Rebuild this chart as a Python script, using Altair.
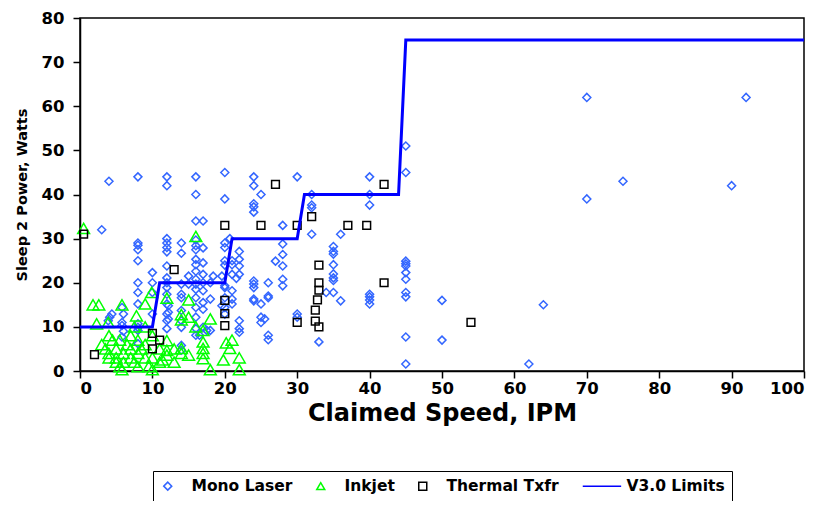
import altair as alt
import pandas as pd

# ---- data ----
mono_x = [4, 8, 12, 12, 16, 20, 24, 24, 30, 40, 45, 45,
          16, 20, 25, 32, 40, 32, 32, 40, 24, 24, 24, 16, 17, 3,
          28, 32, 36, 20.7, 8, 8, 8, 12, 12, 12, 12, 14, 14, 16, 16, 16, 17, 20, 20, 22, 28, 28, 35, 35, 35,
          8, 20, 20, 16, 17, 16, 16, 10, 12, 21, 21, 22, 22, 21, 22, 27, 28, 28, 28, 35, 35, 35, 35, 45, 45, 45, 45, 45, 20, 24, 24, 24, 26,
          8, 8, 10, 10, 8, 12, 12, 12, 12, 14, 14, 14, 15, 15, 16, 16, 16, 16, 17, 17, 17, 17, 18, 18, 18.4, 19.6, 20, 20, 21, 21, 21.6, 19.6, 21, 24, 24, 25, 26, 26, 34, 35, 36, 40, 40, 40, 40, 45, 45, 50, 64,
          4.4, 4.1, 3.9, 5.8, 6, 5.8, 5.8, 6, 8, 8, 8, 10, 12, 12, 12, 12, 12.2, 12.2, 12.2, 14, 14, 14, 16, 16, 16, 16, 17, 17, 17.5, 16.5, 18, 20, 20, 22, 22, 22, 25, 25, 25.5, 26, 26, 30, 30, 45, 50,
          8, 5.8, 14, 14, 33, 45, 62,
          70, 92, 70, 75, 90]
mono_y = [43, 44, 44, 42, 44, 45, 44, 42, 44, 44, 45, 51,
          40, 39, 40, 40, 40, 37.6, 37, 37.6, 37.9, 37.2, 36, 34, 34, 32,
          33, 31, 31, 30, 29, 28.5, 27.5, 30, 29, 28, 27, 29, 26.7, 29.7, 28.4, 27.5, 27.9, 29, 28, 27.1, 28.8, 26.4, 28.2, 27.1, 26.5,
          25, 25, 24, 25.3, 24.5, 24.1, 22.6, 22.3, 23.8, 25, 24.1, 25.3, 23.8, 21.9, 21.9, 24.9, 23.8, 20.8, 19.3, 24.1, 22, 21.1, 20.5, 24.9, 24.3, 23.8, 22.3, 20.8, 19.3, 20.4, 19.7, 18.9, 20,
          20, 17.8, 20, 17.8, 15.2, 21.1, 20, 18.9, 17.4, 19.7, 17.4, 16.6, 21.5, 19.7, 20.8, 19.7, 18.5, 16.6, 21.9, 20, 18.2, 15.5, 20, 16.3, 21.5, 21.5, 18.9, 16.6, 18.2, 16.3, 21, 14.8, 15.2, 16.3, 15.9, 15.2, 17, 16.6, 17.8, 17.8, 15.9, 17.4, 16.8, 16.1, 15.2, 17.8, 16.8, 16, 15,
          12.9, 12.2, 11.4, 14.4, 12.9, 11, 10.3, 9, 10.7, 9.2, 9.9, 12.9, 15.2, 12.9, 11.4, 9.6, 14.8, 13.3, 11.8, 13.7, 11.4, 9.9, 14.4, 12.2, 9.6, 8.1, 14, 9.9, 9.2, 8.1, 9.2, 14.4, 12.9, 11.4, 9.6, 8.8, 12.2, 11, 11.8, 8.1, 7.1, 12.9, 12.2, 7.7, 7,
          6.2, 7.7, 5.8, 4.7, 6.6, 1.6, 1.6,
          62, 62, 39, 43, 42]

inkjet_x = [0.5, 1.8, 2.6, 2.3, 3.9, 3, 3.5, 4, 4, 4, 4.5, 5, 5, 5, 5.5, 5.5, 5.8, 6, 6, 5.8, 6.5, 7, 7, 7, 7.5, 7.5,
            7.8, 8, 8, 8, 8.5, 9, 9, 9, 9, 9.5, 9.9, 10, 10, 10, 11, 11, 12, 12, 12, 12, 11.4, 13, 13, 14, 14, 14, 14,
            15, 15, 15, 16, 16, 17, 17, 17, 17, 17, 18, 18, 19.8, 20.2, 20.7, 21, 22, 22]
inkjet_y = [32.3, 15, 15, 10.7, 11, 6, 5, 8, 4, 3, 7, 5, 2, 3, 7, 1, 15, 4, 2, 0.3, 6, 3, 8, 5, 10, 2,
            12.5, 7, 4, 1, 5, 15.2, 10, 6, 3, 1, 17.8, 0.3, 8, 3, 5, 2, 16.5, 6.9, 4.7, 3.6, 2.5, 5, 2, 12.8, 11.6, 5.1, 4,
            16.1, 12.2, 3.6, 30.5, 10, 9.2, 6.6, 5.1, 4, 2.8, 11.8, 0.3, 2.5, 6.4, 5.1, 7, 3, 0.3]

thermal_x = [0.5, 2, 10, 11, 10, 13, 20, 20, 20, 20, 25, 27, 30, 30, 32, 33, 33, 33, 32.8, 32.5, 32.5, 33,
             37, 39.6, 42, 42, 54]
thermal_y = [31, 3.7, 8.5, 7, 5, 23, 33, 16, 13, 10.3, 33, 42.3, 33, 11, 35, 24, 20, 18.3, 16.1, 13.8, 11.3, 10,
             33, 33, 42.3, 20, 11]

limit_x = [0, 10, 11, 20, 21, 30, 31, 44, 45, 100]
limit_y = [10, 10, 20, 20, 30, 30, 40, 40, 75, 75]

series_names = ["Mono Laser", "Inkjet", "Thermal Txfr", "V3.0 Limits"]

# ---- tables ----
mono = pd.DataFrame({"series": "Mono Laser", "x": mono_x, "y": mono_y})
inkjet = pd.DataFrame({"series": "Inkjet", "x": inkjet_x, "y": inkjet_y})
thermal = pd.DataFrame({"series": "Thermal Txfr", "x": thermal_x, "y": thermal_y})
limits = pd.DataFrame({"series": "V3.0 Limits", "x": limit_x, "y": limit_y})

FONT = "DejaVu Sans"
colors = ["#3366FF", "#00FF00", "#000000", "#0000FF"]
shapes = ["diamond", "triangle-up", "square", "M-5,0H4.6"]

xscale = alt.Scale(domain=[0, 100], nice=False, zero=True)
yscale = alt.Scale(domain=[0, 80], nice=False, zero=True)
color_scale = alt.Scale(domain=series_names, range=colors)
shape_scale = alt.Scale(domain=series_names, range=shapes)

legend = alt.Legend(title=None, orient="none", legendX=73, legendY=453,
                    direction="horizontal")

xaxis = alt.Axis(values=list(range(0, 101, 10)), title="Claimed Speed, IPM", grid=False,
                 labelPadding=2, titleFontSize=24, titlePadding=5)
yaxis = alt.Axis(values=list(range(0, 81, 10)), title="Sleep 2 Power, Watts", grid=False,
                 labelPadding=9, titleFontSize=14.5, titlePadding=12)


def point_layer(df, size, with_axes=False):
    return alt.Chart(df).mark_point(filled=False, strokeWidth=1.5, opacity=1, size=size).encode(
        x=alt.X("x:Q", scale=xscale, axis=xaxis if with_axes else alt.Axis(title="Claimed Speed, IPM")),
        y=alt.Y("y:Q", scale=yscale, axis=yaxis if with_axes else alt.Axis(title="Sleep 2 Power, Watts")),
        color=alt.Color("series:N", scale=color_scale, legend=legend),
        shape=alt.Shape("series:N", scale=shape_scale, legend=legend),
    )


mono_layer = point_layer(mono, 64, with_axes=True)
inkjet_layer = point_layer(inkjet, 140)
thermal_layer = point_layer(thermal, 60)

line = alt.Chart(limits).mark_line(strokeWidth=3).encode(
    x=alt.X("x:Q", scale=xscale),
    y=alt.Y("y:Q", scale=yscale),
    color=alt.Color("series:N", scale=color_scale, legend=legend),
)

chart = alt.layer(mono_layer, inkjet_layer, thermal_layer, line).properties(
    width=724, height=353,
    padding={"left": 72, "top": 10, "right": 10, "bottom": 130},
    autosize=alt.AutoSizeParams(type="none"),
).configure_view(
    stroke="black", strokeWidth=1.5
).configure_axis(
    domainColor="black", domainWidth=1.5, tickColor="black", tickWidth=1.5, tickSize=7,
    labelFont=FONT, labelFontWeight="bold", labelFontSize=16.5, labelColor="black",
    titleFont=FONT, titleFontWeight="bold", titleColor="black",
).configure_legend(
    strokeColor="black", strokeWidth=1, padding=7,
    labelFont=FONT, labelFontWeight="bold", labelFontSize=15.5, labelColor="black",
    columnPadding=20, labelOffset=16, symbolSize=64, symbolStrokeWidth=1.5,
)

chart.save("out.html", embed_options={"renderer": "svg", "actions": False})
